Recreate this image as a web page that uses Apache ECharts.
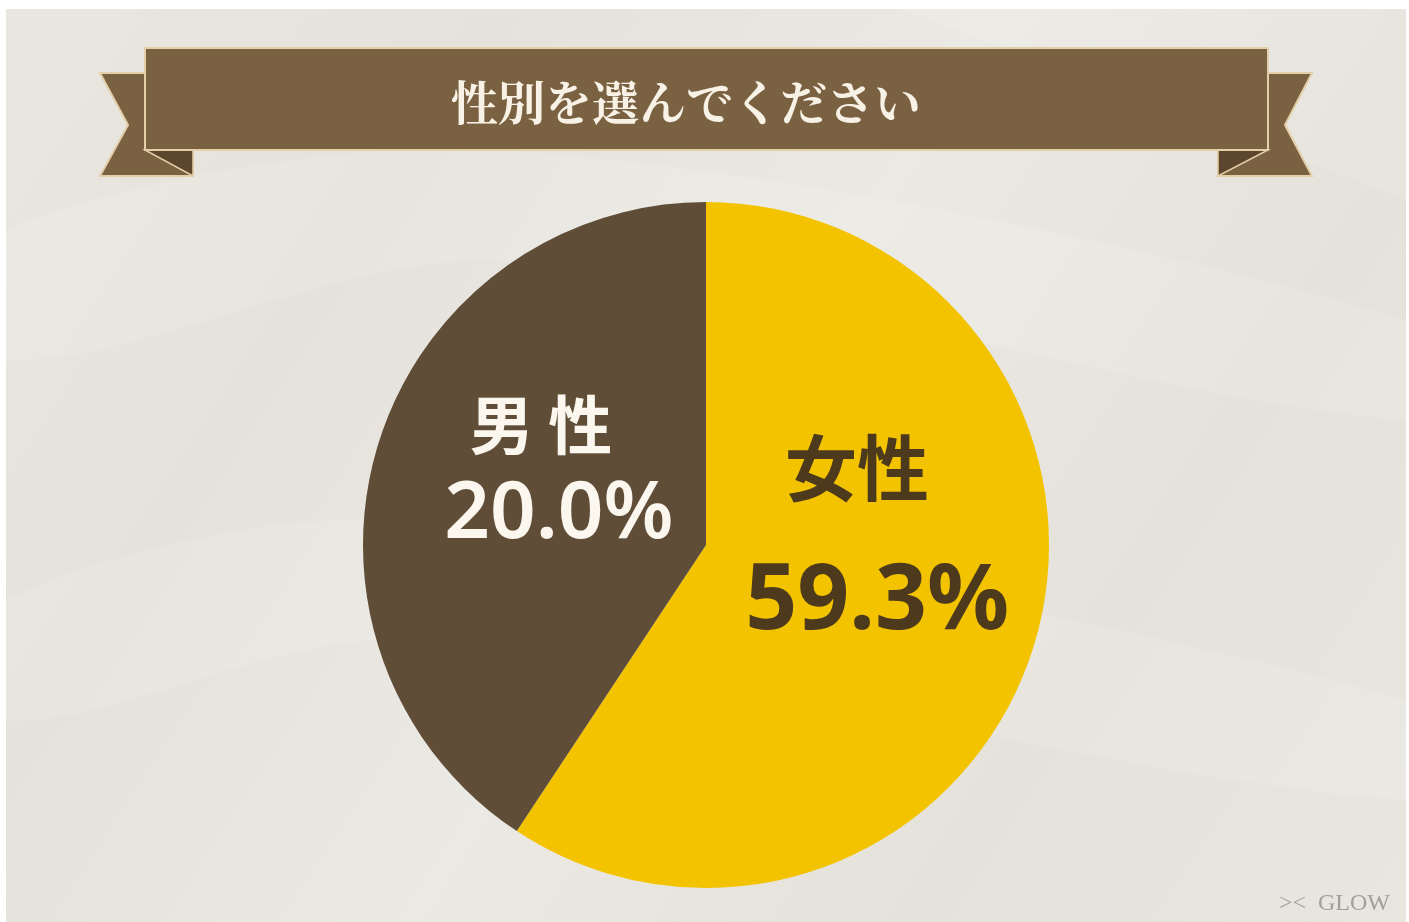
<!DOCTYPE html>
<html>
<head>
<meta charset="utf-8">
<script src="https://cdn.jsdelivr.net/npm/echarts@6/dist/echarts.min.js"></script>
<style>
html,body{margin:0;padding:0;background:#fff;}
#c{width:1409px;height:922px;}
</style>
</head>
<body>
<div id="c"></div>
<script>
// ---- data ----
var titleText = '性別を選んでください';
var categories = ['女性', '男性'];
var sliceValues = [59.3, 40.7];          // slice sizes as drawn
var labelValues = ['59.3%', '20.0%'];    // label texts as printed
var sliceColors = ['#f3c300', '#5f4d38'];

var chart = echarts.init(document.getElementById('c'), null, {renderer: 'canvas'});

var seriesData = categories.map(function (name, i) {
  return {
    name: name,
    value: sliceValues[i],
    itemStyle: {color: sliceColors[i]},
    label: i === 0 ? {
      formatter: '{n|' + name + '}\n{v|' + labelValues[i] + '}',
      rich: {
        n: {fontSize: 72, fontWeight: 'bold', color: '#4d3a1d', lineHeight: 130, padding: [0, 40, 0, 0], fontFamily: 'Noto Sans CJK JP'},
        v: {fontSize: 91, fontWeight: 'bold', color: '#4d3a1d', lineHeight: 142, fontFamily: 'Noto Sans, Noto Sans CJK JP'}
      }
    } : {
      formatter: '{n|' + name.split('').join(' ') + '}\n{v|' + labelValues[i] + '}',
      rich: {
        n: {fontSize: 64, fontWeight: 'bold', color: '#fbf7ee', lineHeight: 82, padding: [0, 36, 0, 0], fontFamily: 'Noto Sans CJK JP'},
        v: {fontSize: 80, fontWeight: 600, color: '#fbf7ee', lineHeight: 98, fontFamily: 'Noto Sans, Noto Sans CJK JP'}
      }
    }
  };
});

var bannerFill = '#7a6142';
var bannerEdge = '#e3cfa8';
var foldFill = '#5c472e';

chart.setOption({
  backgroundColor: '#ffffff',
  animation: false,
  graphic: [
    // background silk
    {type: 'rect', z: -10, shape: {x: 6, y: 9, width: 1400, height: 913},
      style: {fill: new echarts.graphic.LinearGradient(0, 0, 1, 1, [
        {offset: 0, color: '#eae7e0'},
        {offset: 0.25, color: '#e5e2db'},
        {offset: 0.5, color: '#ebe9e3'},
        {offset: 0.75, color: '#e5e2db'},
        {offset: 1, color: '#e9e6df'}
      ])}},
    {type: 'polygon', z: -9, shape: {points: [[6, 230], [500, 150], [1406, 320], [1406, 420], [500, 260], [6, 360]], smooth: 0.3},
      style: {fill: 'rgba(255,255,255,0.12)'}},
    {type: 'polygon', z: -9, shape: {points: [[6, 600], [400, 520], [1406, 700], [1406, 800], [400, 640], [6, 720]], smooth: 0.3},
      style: {fill: 'rgba(255,255,255,0.12)'}},
    {type: 'polygon', z: -9, shape: {points: [[900, 9], [1406, 9], [1406, 200], [1200, 120]]},
      style: {fill: 'rgba(255,255,255,0.10)'}},
    // left tail
    {type: 'polygon', z: 1, shape: {points: [[100, 73], [193, 73], [193, 176], [100, 176], [128, 125]]},
      style: {fill: bannerFill, stroke: bannerEdge, lineWidth: 2}},
    {type: 'polygon', z: 2, shape: {points: [[145, 150], [193, 150], [193, 176]]},
      style: {fill: foldFill, stroke: bannerEdge, lineWidth: 1.5}},
    // right tail
    {type: 'polygon', z: 1, shape: {points: [[1218, 73], [1312, 73], [1285, 125], [1312, 176], [1218, 176]]},
      style: {fill: bannerFill, stroke: bannerEdge, lineWidth: 2}},
    {type: 'polygon', z: 2, shape: {points: [[1218, 150], [1268, 150], [1218, 176]]},
      style: {fill: foldFill, stroke: bannerEdge, lineWidth: 1.5}},
    // main banner
    {type: 'rect', z: 3, shape: {x: 145, y: 48, width: 1123, height: 102},
      style: {fill: bannerFill, stroke: bannerEdge, lineWidth: 2}},
    {type: 'text', z: 4, x: 686, y: 102,
      style: {text: titleText, fill: '#f8f2e6', font: 'bold 47px "Noto Serif CJK JP", "Noto Sans CJK JP", serif',
        align: 'center', verticalAlign: 'middle'}},
    // watermark
    {type: 'text', z: 4, x: 1390, y: 904,
      style: {text: '><  GLOW', fill: '#a09f9b', font: '24px "Liberation Serif", serif', align: 'right', verticalAlign: 'middle'}}
  ],
  series: [{
    type: 'pie',
    center: [706, 545],
    radius: [0, 343],
    startAngle: 90,
    clockwise: true,
    silent: true,
    label: {show: true, position: 'inside'},
    labelLine: {show: false},
    labelLayout: function (params) {
      if (params.dataIndex === 0) return {dx: 4, dy: -57};
      return {dx: 20, dy: -21};
    },
    itemStyle: {borderWidth: 0},
    data: seriesData
  }]
});
</script>
</body>
</html>
